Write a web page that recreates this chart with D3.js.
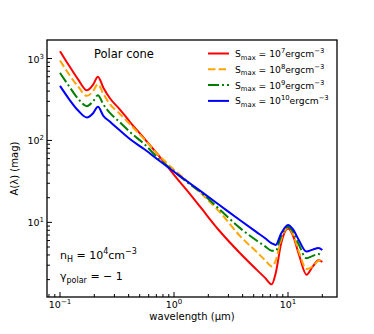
<!DOCTYPE html>
<html>
<head>
<meta charset="utf-8">
<script src="https://cdnjs.cloudflare.com/ajax/libs/d3/7.8.5/d3.min.js"></script>
<style>
  body { margin: 0; background: #fff; }
  text { font-family: "DejaVu Sans", sans-serif; fill: #000; }
</style>
</head>
<body>
<svg id="chart" width="374" height="334"></svg>
<script>
// wavelength grid (micron), shared by all series
var wavelength = [0.1, 0.12, 0.145, 0.172, 0.195, 0.215, 0.24, 0.275, 0.33, 0.41, 0.55, 0.75, 1.0, 1.3, 1.7, 2.5, 3.8, 5.3, 6.3, 7.2, 7.8, 8.7, 10, 11, 12.5, 14.5, 16.5, 18.5, 20];

// extinction A(lambda) in mag, one per S_max
var smax7  = [1230, 820, 550, 410, 480, 600, 440, 325, 245, 169, 105, 63, 38, 24.5, 15.4, 7.9, 4.2, 2.65, 2.1, 1.75, 2.4, 5.5, 8.4, 7.0, 4.0, 2.3, 2.9, 3.45, 3.3];
var smax8  = [946, 640, 450, 350, 400, 486, 370, 275, 215, 158, 103, 64, 44, 32, 23, 13.5, 6.8, 4.36, 3.45, 2.9, 3.4, 6.2, 8.6, 7.3, 4.3, 2.7, 2.9, 3.4, 3.45];
var smax9  = [667, 460, 320, 262, 300, 357, 275, 215, 170, 127, 90, 58, 42, 31, 23.6, 14.5, 8.5, 6.0, 5.1, 4.5, 4.5, 6.8, 8.8, 7.8, 5.3, 3.65, 3.9, 4.1, 3.9];
var smax10 = [463, 320, 230, 191, 215, 257, 200, 169, 135, 104, 78, 56, 41.5, 31.8, 24.2, 16.3, 10.6, 7.6, 6.4, 5.55, 5.3, 7.3, 9.27, 8.3, 6.0, 4.4, 4.65, 4.85, 4.6];

var seriesNames = ["7", "8", "9", "10"];
var seriesColors = ["#ff0000", "#ffa500", "#008000", "#0000ff"];
var seriesDash = [null, "7.4,3.2", "11,3,2,3", null];

var xMajor = [0.1, 1, 10];
var xMajorExp = ["\u22121", "0", "1"];
var yMajor = [10, 100, 1000];
var yMajorExp = ["1", "2", "3"];

var svg = d3.select("#chart");
var pL = 47, pR = 337, pT = 40, pB = 297;

var x = d3.scaleLog().domain([0.0769, 26.9]).range([pL, pR]);
var y = d3.scaleLog().domain([1.227, 1683]).range([pB, pT]);

var allSeries = [smax7, smax8, smax9, smax10];

var line = d3.line()
    .x(function(d) { return x(d[0]); })
    .y(function(d) { return y(d[1]); })
    .curve(d3.curveMonotoneX);

var plot = svg.append("g");
allSeries.forEach(function(vals, i) {
    var pts = wavelength.map(function(w, k) { return [w, vals[k]]; });
    plot.append("path")
        .attr("d", line(pts))
        .attr("fill", "none")
        .attr("stroke", seriesColors[i])
        .attr("stroke-width", 2)
        .attr("stroke-dasharray", seriesDash[i]);
});

// minor ticks
var xMinor = [];
[0.01, 0.1, 1, 10].forEach(function(dec) {
    for (var m = 2; m <= 9; m++) {
        var v = dec * m;
        if (v > x.domain()[0] && v < x.domain()[1]) xMinor.push(v);
    }
});
var yMinor = [];
[1, 10, 100, 1000].forEach(function(dec) {
    for (var m = 2; m <= 9; m++) {
        var v = dec * m;
        if (v > y.domain()[0] && v < y.domain()[1]) yMinor.push(v);
    }
});

var axes = svg.append("g").attr("stroke", "#000").attr("stroke-width", 1);
xMinor.forEach(function(v) {
    axes.append("line").attr("x1", x(v)).attr("x2", x(v)).attr("y1", pB).attr("y2", pB - 3);
});
xMajor.forEach(function(v) {
    axes.append("line").attr("x1", x(v)).attr("x2", x(v)).attr("y1", pB).attr("y2", pB - 5);
});
yMinor.forEach(function(v) {
    axes.append("line").attr("y1", y(v)).attr("y2", y(v)).attr("x1", pL).attr("x2", pL + 3);
});
yMajor.forEach(function(v) {
    axes.append("line").attr("y1", y(v)).attr("y2", y(v)).attr("x1", pL).attr("x2", pL + 5);
});

svg.append("rect")
    .attr("x", pL).attr("y", pT)
    .attr("width", pR - pL).attr("height", pB - pT)
    .attr("fill", "none").attr("stroke", "#000").attr("stroke-width", 1.3);

// tick labels
xMajor.forEach(function(v, i) {
    var t = svg.append("text").attr("x", x(v)).attr("y", pB + 11)
        .attr("text-anchor", "middle").attr("font-size", 9.5);
    t.append("tspan").text("10");
    t.append("tspan").attr("dy", -4).attr("font-size", 7).text(xMajorExp[i]);
});
yMajor.forEach(function(v, i) {
    var t = svg.append("text").attr("x", pL - 3).attr("y", y(v) + 4)
        .attr("text-anchor", "end").attr("font-size", 9.5);
    t.append("tspan").text("10");
    t.append("tspan").attr("dy", -4).attr("font-size", 7).text(yMajorExp[i]);
});

// axis titles
svg.append("text").attr("x", (pL + pR) / 2).attr("y", 320)
    .attr("text-anchor", "middle").attr("font-size", 10)
    .text("wavelength (\u03bcm)");
svg.append("text").attr("transform", "translate(18," + ((pT + pB) / 2) + ") rotate(-90)")
    .attr("text-anchor", "middle").attr("font-size", 10)
    .text("A(\u03bb) (mag)");

// annotations
svg.append("text").attr("x", 94).attr("y", 58).attr("font-size", 11.5).text("Polar cone");

var nh = svg.append("text").attr("x", 60).attr("y", 259).attr("font-size", 11);
nh.append("tspan").text("n");
nh.append("tspan").attr("dy", 3).attr("font-size", 8).text("H");
nh.append("tspan").attr("dy", -3).text(" = 10");
nh.append("tspan").attr("dy", -5).attr("font-size", 8).text("4");
nh.append("tspan").attr("dy", 5).text("cm");
nh.append("tspan").attr("dy", -5).attr("font-size", 8).text("\u22123");

var gp = svg.append("text").attr("x", 60).attr("y", 280).attr("font-size", 11);
gp.append("tspan").text("\u03b3");
gp.append("tspan").attr("dy", 3).attr("font-size", 8).text("polar");
gp.append("tspan").attr("dy", -3).text(" = \u2212 1");

// legend
var legend = svg.append("g");
seriesNames.forEach(function(n, i) {
    var ly = 53.5 + i * 15.8;
    legend.append("line").attr("x1", 208).attr("x2", 229).attr("y1", ly).attr("y2", ly)
        .attr("stroke", seriesColors[i]).attr("stroke-width", 2)
        .attr("stroke-dasharray", seriesDash[i]);
    var t = legend.append("text").attr("x", 235).attr("y", ly + 3.5).attr("font-size", 9.2);
    t.append("tspan").text("S");
    t.append("tspan").attr("dy", 2.5).attr("font-size", 6.8).text("max");
    t.append("tspan").attr("dy", -2.5).text(" = 10");
    t.append("tspan").attr("dy", -4).attr("font-size", 6.8).text(n);
    t.append("tspan").attr("dy", 4).text("ergcm");
    t.append("tspan").attr("dy", -4).attr("font-size", 6.8).text("\u22123");
});
</script>
</body>
</html>
